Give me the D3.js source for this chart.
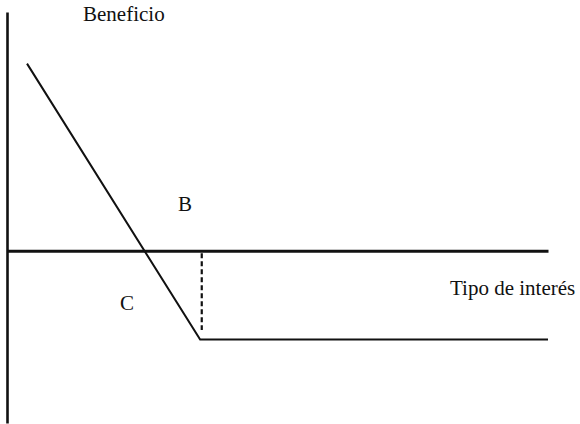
<!DOCTYPE html>
<html>
<head>
<meta charset="utf-8">
<script src="https://cdn.jsdelivr.net/npm/d3@7"></script>
<style>
  body { margin: 0; background: #fff; }
</style>
</head>
<body>
<div id="chart"></div>
<script>
// data (abstract units)
var xDomain = [0, 10];
var yDomain = [-2.87, 3.98];
var curveRate = [0.37, 3.57, 10];
var curveProfit = [3.12, -1.48, -1.48];
var dashRate = 3.6;
var dashProfit = [-0.04, -1.32];
var axisLabels = ["Beneficio", "Tipo de interés"];
var areaLabels = ["B", "C"];

var width = 580, height = 424;
var serif = "'Liberation Serif', 'Times New Roman', Times, serif";

var svg = d3.select("#chart")
  .append("svg")
    .attr("width", width)
    .attr("height", height);

var x = d3.scaleLinear().domain(xDomain).range([7, 548]);
var y = d3.scaleLinear().domain(yDomain).range([423, 12]);

// vertical axis (no ticks)
var yAxis = svg.append("g")
  .attr("transform", "translate(" + x(0) + ",0)")
  .call(d3.axisLeft(y).tickValues([]).tickSizeOuter(0));
yAxis.select(".domain").attr("stroke", "#111").attr("stroke-width", 2.6);

// horizontal axis at zero profit
var xAxis = svg.append("g")
  .attr("transform", "translate(0," + y(0) + ")")
  .call(d3.axisBottom(x).tickValues([]).tickSizeOuter(0));
xAxis.select(".domain").attr("stroke", "#111").attr("stroke-width", 3);

// profit curve
var curve = curveRate.map(function (d, i) { return [d, curveProfit[i]]; });
var line = d3.line()
  .x(function (d) { return x(d[0]); })
  .y(function (d) { return y(d[1]); });

svg.append("path")
  .datum(curve)
  .attr("d", line)
  .attr("fill", "none")
  .attr("stroke", "#111")
  .attr("stroke-width", 2);

// dashed drop line
svg.append("line")
  .attr("x1", x(dashRate)).attr("x2", x(dashRate))
  .attr("y1", y(dashProfit[0])).attr("y2", y(dashProfit[1]))
  .attr("stroke", "#111")
  .attr("stroke-width", 2.2)
  .attr("stroke-dasharray", "5,3");

// labels
function label(tx, ty, str) {
  svg.append("text")
    .attr("x", tx).attr("y", ty)
    .style("font-family", serif)
    .style("font-size", "21px")
    .style("fill", "#111")
    .text(str);
}
label(83, 21, axisLabels[0]);
label(450, 295, axisLabels[1]);
label(178, 211, areaLabels[0]);
label(120, 310, areaLabels[1]);
</script>
</body>
</html>
